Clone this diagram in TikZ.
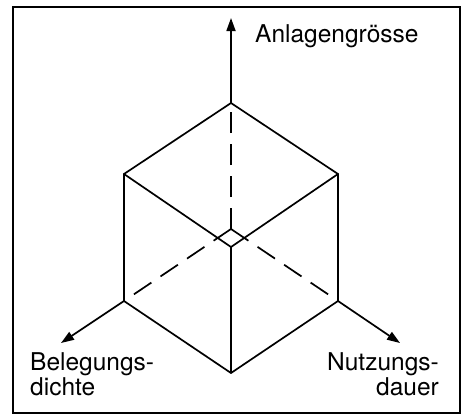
\documentclass[tikz,border=0pt]{standalone}
\usepackage{fontspec}
\setmainfont{TeX Gyre Heros}
\usetikzlibrary{arrows.meta,calc}
\begin{document}
\begin{tikzpicture}[x=1pt,y=-1pt,
  edge/.style={line width=1.7pt, line cap=round, line join=round},
  hidden/.style={line width=1.7pt, dash pattern=on 21pt off 11pt},
  axis/.style={line width=1.7pt, -{Triangle[length=13pt,width=9pt]}},
  frame/.style={line width=2pt},
  lbl/.style={inner sep=0pt, font=\fontsize{24.5}{26}\selectfont}]
\useasboundingbox (0,0) rectangle (465,415);
\draw[frame] (13,7) rectangle (460,413);
% cube vertices
\coordinate (T) at (231,103);
\coordinate (UL) at (124,174);
\coordinate (UR) at (338,174);
\coordinate (F) at (231,247);
\coordinate (LL) at (124,301);
\coordinate (LR) at (338,301);
\coordinate (B) at (231,373);
\coordinate (BV) at (231,229);
\coordinate (DL) at ($(BV)!0.91!(LL)$);
\coordinate (DR) at ($(BV)!0.91!(LR)$);
% axis tips
\coordinate (AT) at (231,18);
\coordinate (AL) at (61,343);
\coordinate (AR) at (400,343);
% hidden edges
\draw[hidden] (BV) -- (T);
\draw[hidden] (BV) -- (DL);
\draw[hidden] (BV) -- (DR);
% visible edges
\draw[edge] (UL) -- (T) -- (UR);
\draw[edge] (UL) -- (F) -- (UR);
\draw[edge] (UL) -- (LL) -- (B) -- (LR) -- (UR);
\draw[edge] (F) -- (B);
% axes
\draw[axis] (T) -- (AT);
\draw[axis] (LL) -- (AL);
\draw[axis] (LR) -- (AR);
% labels
\node[lbl, anchor=base west] (la) at (255,42) {Anlagengrösse};
\node[lbl, anchor=base west] (lb1) at (30,370) {Belegungs-};
\node[lbl, anchor=base west] (lb2) at (30,395) {dichte};
\node[lbl, anchor=base east] (ln1) at (439,370) {Nutzungs-};
\node[lbl, anchor=base east] (ln2) at (439,395) {dauer};
\end{tikzpicture}
\end{document}
